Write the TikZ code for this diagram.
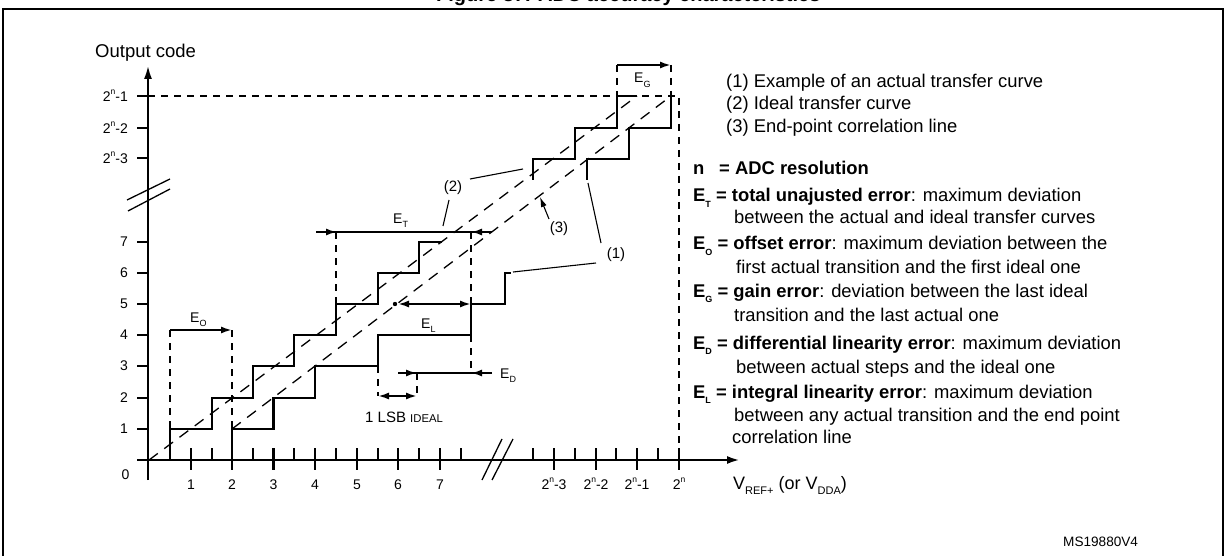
\documentclass[tikz,border=0pt]{standalone}
\usepackage{fontspec}
\setmainfont{Liberation Sans}
\usetikzlibrary{arrows.meta}
\newcommand\lsub[2]{\raisebox{-0.3em}{\fontsize{#1}{#1}\selectfont #2}}
\newcommand\lsup[2]{\raisebox{0.5em}{\fontsize{#1}{#1}\selectfont #2}}
\begin{document}
\begin{tikzpicture}[x=1pt,y=-1pt,
  ax/.style={line width=2.5pt},
  stair/.style={line width=2.3pt, line join=miter},
  dl/.style={line width=1.3pt, dash pattern=on 11pt off 8pt},
  dv/.style={line width=2pt, dash pattern=on 7pt off 6pt},
  lead/.style={line width=1.1pt},
  arr/.style={-{Latex[length=11pt,width=7pt]}},
  lbl/.style={inner sep=0pt, font=\fontsize{14}{14}\selectfont},
  plbl/.style={inner sep=0pt, font=\fontsize{15}{15}\selectfont},
  txt/.style={inner sep=0pt, anchor=base west, font=\fontsize{18.4}{20}\selectfont}]
\useasboundingbox (0,0) rectangle (1226,556);
% frame and title
\draw[line width=2.5pt] (3,562) -- (3,9) -- (1223,9) -- (1223,562);
\node[inner sep=0pt, anchor=base west, font=\bfseries\fontsize{20}{20}\selectfont] (title) at (436,1.2) {Figure 37. ADC accuracy characteristics};
% axes
\draw[ax, -{Latex[length=14pt,width=8pt]}] (148,480) -- (148,65);
\draw[ax, -{Latex[length=13pt,width=8pt]}] (137,460) -- (740,460);
\node[inner sep=0pt, anchor=base west, font=\fontsize{18.5}{20}\selectfont] (ylab) at (95,58) {Output code};
% y ticks
\foreach \yy/\tt in {96/{2\lsup{8.5}{n}-1},128/{2\lsup{8.5}{n}-2},158/{2\lsup{8.5}{n}-3},242/7,273/6,304/5,335/4,366/3,398/2,429/1}{
  \draw[line width=2.3pt] (137,\yy) -- (148,\yy);
  \node[lbl, anchor=east] at (128,\yy) {\tt};
}
\node[lbl] (zero) at (125.5,475) {0};
% y break
\draw[line width=1.3pt] (127,200) -- (170,179);
\draw[line width=1.3pt] (128,211) -- (170,189);
% x ticks
\foreach \xx in {170,212,253,294,336,378,419,461,533,575,616,658}{
  \draw[line width=2.3pt] (\xx,448) -- (\xx,460);
}
\foreach \xx/\tt in {191/1,232/2,273.5/3,315/4,357/5,398/6,440/7}{
  \draw[line width=2.3pt] (\xx,448) -- (\xx,470);
  \node[lbl] at (\xx,485) {\tt};
}
\foreach \xx/\tt in {554/{2\lsup{8.5}{n}-3},596/{2\lsup{8.5}{n}-2},637/{2\lsup{8.5}{n}-1},679/{2\lsup{8.5}{n}}}{
  \draw[line width=2.3pt] (\xx,448) -- (\xx,470);
  \node[lbl] at (\xx,484) {\tt};
}
% x break
\draw[line width=1.3pt] (482,480) -- (502,439);
\draw[line width=1.3pt] (492,480) -- (513,439);
\node[inner sep=0pt, anchor=base west, font=\fontsize{18}{20}\selectfont] (xlab) at (733,489) {V\lsub{11}{REF+} (or V\lsub{11}{DDA})};
% reference dashed lines
\draw[dv] (148,96) -- (679,96) -- (679,460);
% diagonal lines
\draw[dl] (149,460) -- (637,96);
\draw[dl] (232,429) -- (671,96);
% ideal staircase
\draw[stair] (170,460) -- (170,429) -- (212,429) -- (212,398) -- (253,398) -- (253,366) -- (294,366) -- (294,335) -- (336,335) -- (336,304) -- (378,304) -- (378,273) -- (419,273) -- (419,242) -- (442,242);
\draw[stair] (533,180) -- (533,159) -- (575,159) -- (575,128) -- (617,128) -- (617,96) -- (637,96);
% actual staircase
\draw[stair] (232,460) -- (232,429) -- (273.5,429) -- (273.5,398) -- (315,398) -- (315,366) -- (378,366) -- (378,335) -- (471,335) -- (471,304) -- (505,304) -- (505,273) -- (511,273);
\draw[stair] (587,180) -- (587,159) -- (629,159) -- (629,128) -- (671,128) -- (671,96);
% E_O
\draw[dv] (170,330) -- (170,429);
\draw[dv] (232,330) -- (232,429);
\draw[line width=2pt, arr] (170,330) -- (232,330);
\node[lbl, anchor=base west] (eo) at (190,322) {E\lsub{9}{O}};
% E_T
\draw[dv] (336,232) -- (336,304);
\draw[dv] (471,232) -- (471,304);
\draw[line width=2pt] (316,232) -- (492,232);
\draw[line width=2pt, arr] (316,232) -- (337,232);
\draw[line width=2pt, arr] (492,232) -- (471,232);
\node[lbl, anchor=base west] (et) at (393,223) {E\lsub{9}{T}};
% E_L
\fill (395,304) circle (2.2pt);
\draw[line width=2pt, {Latex[length=11pt,width=7pt]}-{Latex[length=11pt,width=7pt]}] (398,304) -- (471,304);
\node[lbl, anchor=base west] (el) at (421,328) {E\lsub{9}{L}};
% E_D
\draw[dv] (471,335) -- (471,373);
\draw[dv] (417,373) -- (417,396);
\draw[dv] (378,366) -- (378,396);
\draw[line width=2pt] (398,373) -- (492,373);
\draw[line width=2pt, arr] (398,373) -- (417,373);
\draw[line width=2pt, arr] (492,373) -- (471,373);
\node[lbl, anchor=base west] (ed) at (500,378) {E\lsub{9}{D}};
% 1 LSB
\draw[line width=2pt, {Latex[length=11pt,width=7pt]}-{Latex[length=11pt,width=7pt]}] (378,396) -- (417,396);
\node[inner sep=0pt, anchor=base west, font=\fontsize{15}{15}\selectfont] (lsb) at (365,422) {1 LSB {\fontsize{11.3}{12}\selectfont IDEAL}};
% E_G
\draw[dv] (617,65) -- (617,96);
\draw[dv] (671,65) -- (671,96);
\draw[line width=2pt, arr] (617,65) -- (671,65);
\node[lbl, anchor=base west] (eg) at (634,83) {E\lsub{9}{G}};
% curve labels and leaders
\node[plbl] (l1) at (616,255) {(1)};
\node[plbl] (l2) at (453,188) {(2)};
\node[plbl] (l3) at (559,229) {(3)};
\draw[lead] (470,179) -- (523,169);
\draw[lead] (449,200) -- (443,226);
\draw[lead] (596,263) -- (513,272);
\draw[lead] (601,243) -- (588,183);
\draw[lead, -{Latex[length=10pt,width=6pt]}] (549,219) -- (540,197);
% legend text
\node[txt] (t1) at (726,87.5) {(1) Example of an actual transfer curve};
\node[txt] (t2) at (726,110) {(2) Ideal transfer curve};
\node[txt] (t3) at (726,133) {(3) End-point correlation line};
\node[txt] (tn) at (693,175) {\textbf{n}};
\node[txt] (tn2) at (719,175) {\textbf{= ADC resolution}};
\node[txt] (te1) at (693,202) {\textbf{E\lsub{9}{T} = total unajusted error}: maximum deviation};
\node[txt] (te1b) at (734,224) {between the actual and ideal transfer curves};
\node[txt] (te2) at (693,250) {\textbf{E\lsub{9}{O} = offset error}: maximum deviation between the};
\node[txt] (te2b) at (736,273) {first actual transition and the first ideal one};
\node[txt] (te3) at (693,297) {\textbf{E\lsub{9}{G} = gain error}: deviation between the last ideal};
\node[txt] (te3b) at (734,321) {transition and the last actual one};
\node[txt] (te4) at (693,349) {\textbf{E\lsub{9}{D} = differential linearity error}: maximum deviation};
\node[txt] (te4b) at (736,373) {between actual steps and the ideal one};
\node[txt] (te5) at (693,398) {\textbf{E\lsub{9}{L} = integral linearity error}: maximum deviation};
\node[txt] (te5b) at (734,421) {between any actual transition and the end point};
\node[txt] (te5c) at (732,443) {correlation line};
\node[inner sep=0pt, anchor=base west, font=\fontsize{13.6}{14}\selectfont] (ms) at (1063,546) {MS19880V4};
\end{tikzpicture}
\end{document}
